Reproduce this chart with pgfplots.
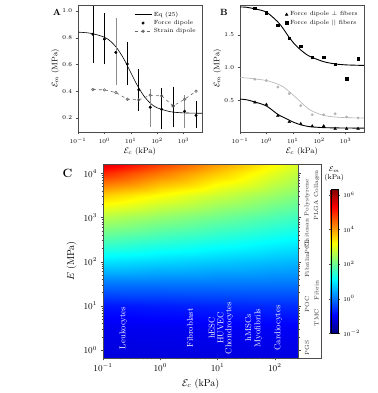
\documentclass[border=0pt]{standalone}
\usepackage{pgfplots}
\pgfplotsset{compat=1.18}
\begin{document}
\begin{tikzpicture}
\useasboundingbox (0,0) rectangle (377pt,393pt);
% ---------------- Panel A ----------------
\begin{axis}[at={(78pt,261pt)}, anchor=south west,
    scale only axis, width=124pt, height=127pt,
    xmode=log, xmin=0.1, xmax=5012,
    xtick={0.1,1,10,100,1000},
    tick align=outside, tick pos=left,
    major tick length=2.5pt, minor tick length=1.5pt,
    tick style={black!70},
    axis line style={black!70},
    tick label style={font=\fontsize{6}{7}\selectfont},
    label style={font=\fontsize{8}{9}\selectfont},
    xlabel={$\mathcal{E}_c$ (kPa)}, ylabel={$\mathcal{E}_m$ (MPa)},
    xlabel style={yshift=3pt}, ylabel style={yshift=-4pt},
    y tick label style={/pgf/number format/fixed, /pgf/number format/fixed zerofill, /pgf/number format/precision=1},
    legend style={draw=none, fill=none, font=\fontsize{6}{7}\selectfont,
      anchor=north east, at={(0.99,0.98)}, row sep=-1.5pt},
    legend cell align=left,
  ymin=0.095, ymax=1.045, ytick={0.2,0.4,0.6,0.8,1.0}]
\addplot[black, line width=0.6pt, smooth] coordinates {
(0.1,0.842) (0.3162,0.833) (1,0.804) (1.778,0.771) (3.162,0.716) (5.623,0.637)
(10,0.540) (17.78,0.443) (31.62,0.364) (56.23,0.309) (100,0.276) (316.2,0.247)
(1000,0.238) (5012,0.235)};
\addlegendentry{Eq (25)}
\addplot[only marks, mark=*, mark size=1.3pt, black,
  error bars/y dir=both, error bars/y explicit,
  error bars/error bar style={black, line width=0.6pt},
  error bars/error mark options={black, mark size=2pt, line width=0.6pt}] coordinates {
(0.3679,0.826) += (0,0.194) -= (0,0.2)
(1,0.79) += (0,0.18) -= (0,0.174)
(7.389,0.604) += (0,0.146) -= (0,0.144)
(20.09,0.41) += (0,0.14) -= (0,0.14)
(148.4,0.265) += (0,0.145) -= (0,0.135)
(403.4,0.29) += (0,0.13) -= (0,0.145)
(2981,0.22) += (0,0.09) -= (0,0.08)};
\addlegendentry{Force dipole}
\addplot[black!60, dashed, line width=0.6pt, mark=o, mark size=1.3pt,
  mark options={solid, fill=white}] coordinates {
(0.3679,0.413) (1,0.41) (2.718,0.39) (7.389,0.34) (20.09,0.335) (54.6,0.37)
(148.4,0.365) (403.4,0.29) (1097,0.34) (2981,0.40)};
\addlegendentry{Strain dipole}
\addplot[forget plot, only marks, mark=*, mark size=1.3pt, black,
  error bars/y dir=both, error bars/y explicit,
  error bars/error bar style={black!45, line width=0.6pt},
  error bars/error mark options={black!45, mark size=2pt, line width=0.6pt}] coordinates {
(2.718,0.69) += (0,0.24) -= (0,0.23)
(54.6,0.28) += (0,0.12) -= (0,0.13)
(1097,0.25) += (0,0.11) -= (0,0.11)};
\end{axis}
% ---------------- Panel B ----------------
\begin{axis}[at={(240pt,261pt)}, anchor=south west,
    scale only axis, width=124pt, height=127pt,
    xmode=log, xmin=0.1, xmax=5012,
    xtick={0.1,1,10,100,1000},
    tick align=outside, tick pos=left,
    major tick length=2.5pt, minor tick length=1.5pt,
    tick style={black!70},
    axis line style={black!70},
    tick label style={font=\fontsize{6}{7}\selectfont},
    label style={font=\fontsize{8}{9}\selectfont},
    xlabel={$\mathcal{E}_c$ (kPa)}, ylabel={$\mathcal{E}_m$ (MPa)},
    xlabel style={yshift=3pt}, ylabel style={yshift=-4pt},
    y tick label style={/pgf/number format/fixed, /pgf/number format/fixed zerofill, /pgf/number format/precision=1},
    legend style={draw=none, fill=none, font=\fontsize{6}{7}\selectfont,
      anchor=north east, at={(0.99,0.98)}, row sep=-1.5pt},
    legend cell align=left,
  ymin=0.01, ymax=1.96, ytick={0.5,1.0,1.5}]
\addplot[forget plot, black!30, line width=0.6pt, smooth] coordinates {
(0.1,0.845) (0.1778,0.84) (0.3679,0.825) (1,0.80) (2.718,0.745) (4.467,0.70)
(7.389,0.63) (12.30,0.55) (20.09,0.47) (33.11,0.39) (54.60,0.33) (148.4,0.265)
(403.4,0.24) (1097,0.23) (5012,0.225)};
\addplot[forget plot, only marks, mark=*, mark size=1.2pt, black!30] coordinates {
(0.3679,0.82) (1,0.80) (2.718,0.70) (7.389,0.60) (20.09,0.415) (54.6,0.275)
(148.4,0.275) (403.4,0.29) (1097,0.24) (2981,0.225)};
\addplot[forget plot, black, line width=0.9pt, smooth] coordinates {
(0.1,0.515) (0.1778,0.505) (0.3679,0.47) (1,0.41) (2.718,0.28) (4.467,0.235)
(7.389,0.19) (12.30,0.15) (20.09,0.12) (33.11,0.10) (54.60,0.088) (148.4,0.077)
(403.4,0.073) (1097,0.071) (5012,0.07)};
\addplot[only marks, mark=triangle*, mark size=1.6pt, black] coordinates {
(0.3679,0.465) (1,0.43) (2.718,0.26) (7.389,0.165) (20.09,0.135) (54.6,0.10)
(148.4,0.10) (403.4,0.06) (1097,0.06) (2981,0.06)};
\addlegendentry{Force dipole $\perp$ fibers}
\addplot[forget plot, black, line width=0.9pt, smooth] coordinates {
(0.1,1.93) (0.1778,1.925) (0.3679,1.90) (1,1.85) (2.718,1.70) (4.467,1.59)
(7.389,1.46) (12.30,1.35) (20.09,1.27) (33.11,1.20) (54.60,1.155) (148.4,1.09)
(403.4,1.055) (1097,1.04) (5012,1.032)};
\addplot[only marks, mark=square*, mark size=1.3pt, black] coordinates {
(0.3679,1.908) (1,1.84) (2.718,1.65) (7.389,1.45) (20.09,1.33) (54.6,1.16)
(148.4,1.16) (403.4,1.05) (1097,0.83) (2981,1.14)};
\addlegendentry{Force dipole $||$ fibers}
\end{axis}
% ---------------- Panel C strip ----------------
\begin{axis}[at={(298.3pt,35pt)}, anchor=south west, scale only axis,
  width=22.4pt, height=194pt, xmin=0, xmax=1,
  ymode=log, ymin=0.66, ymax=16218, xtick=\empty,
  ytick={1,10,100,1000,10000}, yticklabel={}, ytick pos=left, tick align=inside,
  major tick length=2.5pt, minor tick length=1.5pt,
  tick style={black!70}, axis line style={black!70}, clip=false]
\node[rotate=90, font=\fontsize{6}{7}\selectfont, text=black!80, inner sep=0pt] at (axis cs:0.39,1259) {Chitosan Polystyrene};
\node[rotate=90, font=\fontsize{6}{7}\selectfont, text=black!80, inner sep=0pt] at (axis cs:0.82,3162) {PLGA Collagen};
\node[rotate=90, font=\fontsize{6}{7}\selectfont, text=black!80, inner sep=0pt] at (axis cs:0.39,214) {PCL};
\node[rotate=90, font=\fontsize{6}{7}\selectfont, text=black!80, inner sep=0pt] at (axis cs:0.39,81) {Fibrilin};
\node[rotate=90, font=\fontsize{6}{7}\selectfont, text=black!80, inner sep=0pt] at (axis cs:0.82,22.4) {Fibrin};
\node[rotate=90, font=\fontsize{6}{7}\selectfont, text=black!80, inner sep=0pt] at (axis cs:0.39,10.7) {POC};
\node[rotate=90, font=\fontsize{6}{7}\selectfont, text=black!80, inner sep=0pt] at (axis cs:0.82,5.4) {TMC};
\node[rotate=90, font=\fontsize{6}{7}\selectfont, text=black!80, inner sep=0pt] at (axis cs:0.39,1.12) {PGS};
\end{axis}
% ---------------- Panel C heatmap ----------------
\begin{axis}[at={(103pt,35pt)}, anchor=south west, scale only axis,
  width=195.3pt, height=194pt, view={0}{90},
  xmode=log, ymode=log, xmin=0.1, xmax=257, ymin=0.66, ymax=16218, zmin=-1, zmax=1,
  xtick={0.1,1,10,100}, ytick={1,10,100,1000,10000},
  colormap/jet, point meta min=-2, point meta max=6.33,
  axis on top, tick align=outside, tick pos=left,
  major tick length=2.5pt, minor tick length=1.5pt,
  tick style={black!70}, axis line style={black!70},
  tick label style={font=\fontsize{9}{10}\selectfont},
  label style={font=\fontsize{10}{12}\selectfont},
  xlabel={$\mathcal{E}_c$ (kPa)}, ylabel={$E$ (MPa)},
  colorbar,
  colorbar style={at={(1.166,0.87)}, anchor=north west, scale only axis,
    width=7pt, height=144pt,
    ytick={-2,0,2,4,6},
    yticklabels={$10^{-2}$,$10^{0}$,$10^{2}$,$10^{4}$,$10^{6}$},
    tick label style={font=\fontsize{6}{7}\selectfont},
    tick align=outside, major tick length=2pt,
    title={$\mathcal{E}_m$\\(kPa)},
    title style={align=center, font=\fontsize{7}{8}\selectfont, yshift=-2pt}},
]
\addplot3[surf, shader=interp, mesh/rows=10, mesh/cols=5, point meta=explicit]
table[x=x, y=y, z=z, meta=m] {
x y z m
0.1 0.66 0 -1.25
1 0.66 0 -1.235
10 0.66 0 -1.221
100 0.66 0 -1.206
257 0.66 0 -1.2
0.1 3.162 0 -1.1
1 3.162 0 -1.077
10 3.162 0 -1.053
100 3.162 0 -1.03
257 3.162 0 -1.02
0.1 10 0 -0.8
1 10 0 -0.741
10 10 0 -0.683
100 10 0 -0.624
257 10 0 -0.6
0.1 31.62 0 0
1 31.62 0 0
10 31.62 0 0
100 31.62 0 0
257 31.62 0 0
0.1 100 0 0.89
1 100 0 0.785
10 100 0 0.679
100 100 0 0.573
257 100 0 0.53
0.1 316.2 0 1.76
1 316.2 0 1.558
10 316.2 0 1.355
100 316.2 0 1.153
257 316.2 0 1.07
0.1 1000 0 2.62
1 1000 0 2.333
10 1000 0 2.045
100 1000 0 1.758
257 1000 0 1.64
0.1 3162 0 3.62
1 3162 0 3.204
10 3162 0 2.786
100 3162 0 2.37
257 3162 0 2.2
0.1 10000 0 4.99
1 10000 0 4.319
10 10000 0 3.646
100 10000 0 2.975
257 10000 0 2.7
0.1 16218 0 5.6
1 16218 0 4.809
10 16218 0 4.015
100 16218 0 3.224
257 16218 0 2.9
};
\node[rotate=90, text=white, font=\fontsize{8.5}{10}\selectfont, inner sep=0pt] at (axis cs:0.226,3.162,0) {Leukocytes};
\node[rotate=90, text=white, font=\fontsize{8.5}{10}\selectfont, inner sep=0pt] at (axis cs:3.30,3.162,0) {Fibroblast};
\node[rotate=90, text=white, font=\fontsize{8.5}{10}\selectfont, inner sep=0pt] at (axis cs:7.89,3.162,0) {hESC};
\node[rotate=90, text=white, font=\fontsize{8.5}{10}\selectfont, inner sep=0pt] at (axis cs:11.3,3.162,0) {HUVEC};
\node[rotate=90, text=white, font=\fontsize{8.5}{10}\selectfont, inner sep=0pt] at (axis cs:16.0,3.162,0) {Chondrocytes};
\node[rotate=90, text=white, font=\fontsize{8.5}{10}\selectfont, inner sep=0pt] at (axis cs:34.4,3.162,0) {hMSCs};
\node[rotate=90, text=white, font=\fontsize{8.5}{10}\selectfont, inner sep=0pt] at (axis cs:51.3,3.162,0) {Myofibrils};
\node[rotate=90, text=white, font=\fontsize{8.5}{10}\selectfont, inner sep=0pt] at (axis cs:115,3.162,0) {Cardiocytes};
\end{axis}
% panel letters
\node[font=\bfseries\fontsize{9}{10}\selectfont] at (57pt,381pt) {A};
\node[font=\bfseries\fontsize{9}{10}\selectfont] at (224pt,381pt) {B};
\node[font=\bfseries\fontsize{12}{14}\selectfont] at (67.5pt,220pt) {C};
\end{tikzpicture}
\end{document}
